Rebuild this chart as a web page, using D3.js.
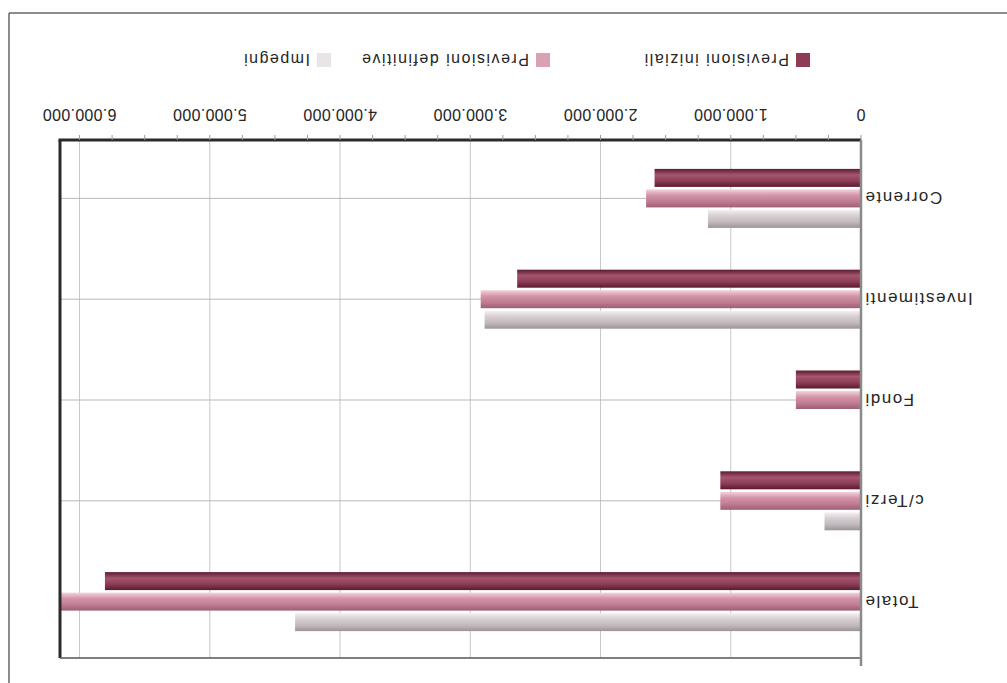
<!DOCTYPE html>
<html>
<head>
<meta charset="utf-8">
<script src="https://cdn.jsdelivr.net/npm/d3@7"></script>
<style>
  body { margin: 0; background: #fff; }
  text { font-family: "Liberation Sans", Arial, sans-serif; fill: #262626; }
</style>
</head>
<body>
<div id="chart"></div>
<script>
// Data (values in euro)
var categories = ["Corrente", "Investimenti", "Fondi", "c/Terzi", "Totale"];
var seriesNames = ["Previsioni iniziali", "Previsioni definitive", "Impegni"];
var previsioniIniziali = [1585000, 2640000, 500000, 1080000, 5805000];
var previsioniDefinitive = [1650000, 2920000, 500000, 1080000, 6150000];
var impegni = [1175000, 2890000, 0, 280000, 4345000];
var tickValues = [0, 1000000, 2000000, 3000000, 4000000, 5000000, 6000000];

var W = 1007, H = 683;
// plot area (drawn in the chart's own frame, then the whole thing is turned upside down)
var plot = {left: 146, right: 947, top: 25, bottom: 543};

var it = d3.formatLocale({decimal: ",", thousands: ".", grouping: [3], currency: ["€", ""]});
var fmt = it.format(",d");

var svg = d3.select("#chart").append("svg")
    .attr("width", W)
    .attr("height", H);

// gradients for the shaded bars
var defs = svg.append("defs");
var grads = [
    ["g0", ["#5c1c31", "#a5556e", "#8d3e57", "#5a1a2f"]],
    ["g1", ["#f3d3dc", "#d394a7", "#c07d93", "#9e5e74"]],
    ["g2", ["#f7f1f3", "#d6ced2", "#c2babe", "#9c9498"]]
];
grads.forEach(function(g) {
    var lg = defs.append("linearGradient")
        .attr("id", g[0])
        .attr("x1", 0).attr("y1", 1).attr("x2", 0).attr("y2", 0);
    g[1].forEach(function(c, i) {
        lg.append("stop").attr("offset", (i / (g[1].length - 1)) * 100 + "%").attr("stop-color", c);
    });
});
var legendColors = ["#8e3b55", "#d9a1b2", "#e9e5e7"];

var root = svg.append("g")
    .attr("transform", "rotate(180," + W / 2 + "," + H / 2 + ")");

// outer frame (only two edges show in the scan)
root.append("line").attr("x1", 0).attr("x2", 998).attr("y1", 670).attr("y2", 670)
    .attr("stroke", "#666").attr("stroke-width", 1.5);
root.append("line").attr("x1", 998).attr("x2", 998).attr("y1", 0).attr("y2", 670)
    .attr("stroke", "#666").attr("stroke-width", 1.5);

var x = d3.scaleLinear()
    .domain([0, 6150000])
    .range([plot.left, plot.right]);

var y = d3.scaleBand()
    .domain(categories.slice().reverse())
    .range([31, 535]);

var barH = 18, pitch = 20.5;

// vertical gridlines
root.append("g").selectAll("line")
    .data(tickValues.slice(1))
    .enter().append("line")
    .attr("x1", function(d) { return x(d); })
    .attr("x2", function(d) { return x(d); })
    .attr("y1", plot.top)
    .attr("y2", plot.bottom)
    .attr("stroke", "#c8c8c8")
    .attr("stroke-width", 1);

// horizontal lines at category centres
root.append("g").selectAll("line")
    .data(categories)
    .enter().append("line")
    .attr("x1", plot.left)
    .attr("x2", plot.right)
    .attr("y1", function(d) { return y(d) + y.bandwidth() / 2; })
    .attr("y2", function(d) { return y(d) + y.bandwidth() / 2; })
    .attr("stroke", "#b8b8b8")
    .attr("stroke-width", 1);

// bars
var series = [previsioniIniziali, previsioniDefinitive, impegni];
series.forEach(function(vals, si) {
    root.append("g").selectAll("rect")
        .data(categories)
        .enter().append("rect")
        .attr("x", x(0))
        .attr("y", function(d) { return y(d) + y.bandwidth() / 2 + (1 - si) * pitch - barH / 2; })
        .attr("width", function(d, i) { return x(vals[i]) - x(0); })
        .attr("height", barH)
        .attr("fill", "url(#g" + si + ")");
});

// plot frame: value axis (thick) and outer edge
root.append("line")
    .attr("x1", plot.left).attr("x2", plot.right + 1.5)
    .attr("y1", plot.bottom).attr("y2", plot.bottom)
    .attr("stroke", "#2a2a2a").attr("stroke-width", 3);
root.append("line")
    .attr("x1", plot.right).attr("x2", plot.right)
    .attr("y1", plot.top).attr("y2", plot.bottom)
    .attr("stroke", "#2a2a2a").attr("stroke-width", 3);
root.append("line")
    .attr("x1", plot.left).attr("x2", plot.right)
    .attr("y1", plot.top).attr("y2", plot.top)
    .attr("stroke", "#555").attr("stroke-width", 1.5);
// category axis at zero
root.append("line")
    .attr("x1", x(0)).attr("x2", x(0))
    .attr("y1", plot.top - 8).attr("y2", plot.bottom)
    .attr("stroke", "#8a8a8a").attr("stroke-width", 2.5);

// minor ticks on the value axis
root.append("g").selectAll("line")
    .data(d3.range(0, 6150001, 250000))
    .enter().append("line")
    .attr("x1", function(d) { return x(d); })
    .attr("x2", function(d) { return x(d); })
    .attr("y1", plot.bottom)
    .attr("y2", plot.bottom + 5)
    .attr("stroke", "#999")
    .attr("stroke-width", 1);

// tick labels
root.append("g").selectAll("text")
    .data(tickValues)
    .enter().append("text")
    .attr("x", function(d) { return x(d); })
    .attr("y", 568)
    .attr("dy", "0.35em")
    .attr("text-anchor", "middle")
    .style("font-size", "16px")
    .style("letter-spacing", "0.3px")
    .text(function(d) { return fmt(d); });

// category labels
root.append("g").selectAll("text")
    .data(categories)
    .enter().append("text")
    .attr("x", x(0) - 3)
    .attr("y", function(d) { return y(d) + y.bandwidth() / 2; })
    .attr("dy", "0.35em")
    .attr("text-anchor", "end")
    .style("font-size", "17px")
    .style("letter-spacing", "1.5px")
    .text(function(d) { return d; });

// legend
var legendX = [197, 457, 676];
var legend = root.append("g").selectAll("g")
    .data(seriesNames)
    .enter().append("g")
    .attr("transform", function(d, i) { return "translate(" + legendX[i] + ",623)"; });
legend.append("rect")
    .attr("x", 0).attr("y", -7)
    .attr("width", 14).attr("height", 14)
    .attr("fill", function(d, i) { return legendColors[i]; });
legend.append("text")
    .attr("x", 21)
    .attr("dy", "0.35em")
    .style("font-size", "16px")
    .style("letter-spacing", "1.5px")
    .text(function(d) { return d; });
</script>
</body>
</html>
